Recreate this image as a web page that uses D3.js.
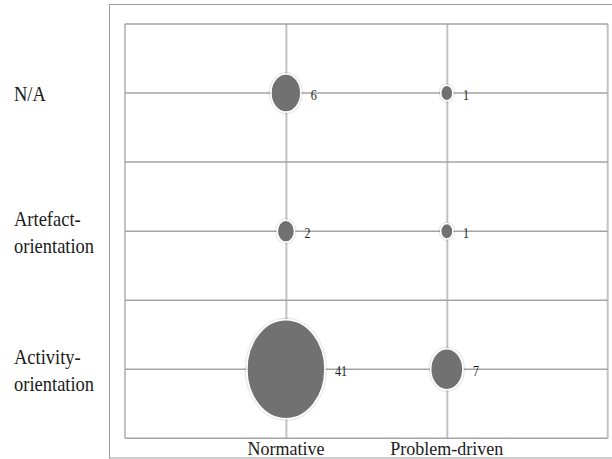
<!DOCTYPE html>
<html>
<head>
<meta charset="utf-8">
<script src="https://cdn.jsdelivr.net/npm/d3@7"></script>
<style>
  body { margin: 0; background: #fff; }
  text { font-family: 'Liberation Serif', 'Times New Roman', serif; fill: #1a1a1a; }
</style>
</head>
<body>
<svg width="612" height="459"></svg>
<script>
const approaches = ['Normative', 'Problem-driven'];
const orientations = ['N/A', 'Artefact-orientation', 'Activity-orientation'];
const orientationLines = [['N/A'], ['Artefact-', 'orientation'], ['Activity-', 'orientation']];
// counts per orientation, one entry per approach
const normativeCounts = [6, 2, 41];
const problemDrivenCounts = [1, 1, 7];

const data = [];
orientations.forEach((o, i) => {
  data.push({approach: approaches[0], orientation: o, count: normativeCounts[i]});
  data.push({approach: approaches[1], orientation: o, count: problemDrivenCounts[i]});
});

const svg = d3.select('svg');
const margin = {top: 24, right: 4.3, bottom: 20.7, left: 125};
const width = +svg.attr('width');
const height = +svg.attr('height');
const innerWidth = width - margin.left - margin.right;
const innerHeight = height - margin.top - margin.bottom;

// outer frame
svg.append('rect')
  .attr('x', 109.5).attr('y', 4.5)
  .attr('width', 520).attr('height', 453.5)
  .attr('fill', 'none').attr('stroke', '#9a9a9a').attr('stroke-width', 1);

const defs = svg.append('defs');
const f = defs.append('filter').attr('id', 'shadow')
  .attr('x', '-20%').attr('y', '-20%').attr('width', '140%').attr('height', '140%');
f.append('feDropShadow').attr('dx', 0).attr('dy', 0).attr('stdDeviation', 1.2)
  .attr('flood-color', '#000').attr('flood-opacity', 0.35);

const g = svg.append('g')
  .attr('transform', `translate(${margin.left},${margin.top})`);

const xScale = d3.scalePoint()
  .domain(approaches)
  .range([0, innerWidth])
  .padding(1);

const yScale = d3.scaleBand()
  .domain(orientations)
  .range([0, innerHeight]);

const yMid = d => yScale(d) + yScale.bandwidth() / 2;

const rScale = d3.scaleSqrt()
  .domain([0, d3.max(data, d => d.count)])
  .range([0, 39]);
const stretch = 1.27;

// vertical grid lines
g.append('g').call(d3.axisBottom(xScale).tickSize(innerHeight).tickFormat(''))
  .call(a => a.select('.domain').remove())
  .selectAll('.tick line')
    .attr('stroke', '#c2c2c2').attr('stroke-width', 2);

// side borders
[0, innerWidth].forEach(x => {
  g.append('line').attr('x1', x).attr('x2', x).attr('y1', 0).attr('y2', innerHeight)
    .attr('stroke', '#c2c2c2').attr('stroke-width', 2);
});

// horizontal grid lines: band edges and band centers
const hLines = yScale.domain().map(d => yScale(d))
  .concat([innerHeight])
  .concat(yScale.domain().map(yMid));
g.append('g').selectAll('line').data(hLines)
  .enter().append('line')
    .attr('x1', 0).attr('x2', innerWidth)
    .attr('y1', d => d).attr('y2', d => d)
    .attr('stroke', '#a3a3a3').attr('stroke-width', 1.5);

// x labels
g.append('g').selectAll('text').data(approaches)
  .enter().append('text')
    .attr('transform', d => `translate(${xScale(d)},${innerHeight + 17}) scale(1,1.1)`)
    .attr('text-anchor', 'middle')
    .attr('font-size', 18)
    .text(d => d);

// y labels
orientations.forEach((o, i) => {
  const lines = orientationLines[i];
  const base = lines.length === 1 ? yMid(o) + 8 : yMid(o) - 5;
  lines.forEach((l, j) => {
    svg.append('text')
      .attr('transform', `translate(14,${margin.top + base + j * 27}) scale(1,1.1)`)
      .attr('font-size', 18.5)
      .text(l);
  });
});

// bubbles
g.selectAll('ellipse').data(data)
  .enter().append('ellipse')
    .attr('cx', d => xScale(d.approach))
    .attr('cy', d => yMid(d.orientation))
    .attr('rx', d => rScale(d.count))
    .attr('ry', d => rScale(d.count) * stretch)
    .attr('fill', '#717171')
    .attr('stroke', '#fff')
    .attr('stroke-width', 1.5)
    .attr('filter', 'url(#shadow)');

// value labels
g.selectAll('.value').data(data)
  .enter().append('text')
    .attr('class', 'value')
    .attr('transform', d => `translate(${xScale(d.approach) + rScale(d.count) + 10},${yMid(d.orientation) + 6.5}) scale(1,1.25)`)
    .attr('font-size', 12)
    .text(d => d.count);
</script>
</body>
</html>
